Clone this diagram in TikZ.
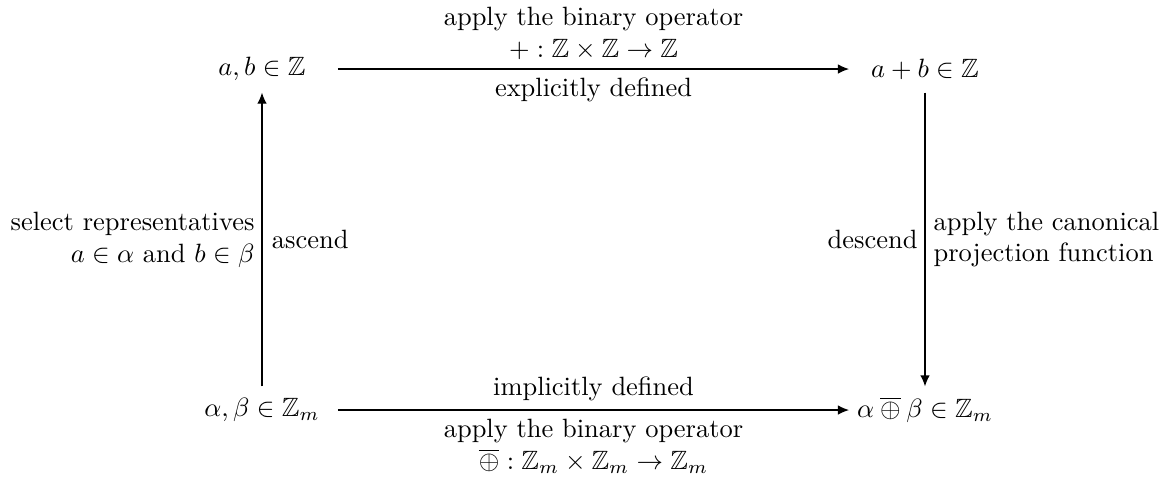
\documentclass[tikz,border=0pt]{standalone}
\usepackage{amsmath,amssymb}
\usetikzlibrary{arrows.meta}
\begin{document}
\begin{tikzpicture}[x=0.378pt,y=-0.378pt,
  obj/.style={minimum width=57pt,minimum height=17.4pt,inner sep=0pt},
  arr/.style={-{Latex[length=4.2pt,width=3.6pt]},line width=0.5pt},
  lbl/.style={align=center,inner sep=3.2pt}]
\useasboundingbox (0,0) rectangle (1167,477);
\node[obj] (tl) at (262,69) {$a,b\in\mathbb{Z}$};
\node[obj] (tr) at (925,69) {$a+b\in\mathbb{Z}$};
\node[obj] (bl) at (262,410) {$\alpha,\beta\in\mathbb{Z}_m$};
\node[obj] (br) at (925,410) {$\alpha\mathbin{\overline{\oplus}}\beta\in\mathbb{Z}_m$};
\draw[arr] (tl) -- node[lbl,above]{apply the binary operator\\$+:\mathbb{Z}\times\mathbb{Z}\to\mathbb{Z}$}
  node[lbl,below]{explicitly defined} (tr);
\draw[arr] (bl) -- node[lbl,above]{implicitly defined}
  node[lbl,below]{apply the binary operator\\$\overline{\oplus}:\mathbb{Z}_m\times\mathbb{Z}_m\to\mathbb{Z}_m$} (br);
\draw[arr] (bl) -- node[lbl,left,align=right,inner sep=2.6pt]{select representatives\\$a\in\alpha$ and $b\in\beta$}
  node[lbl,right,inner sep=3.5pt]{ascend} (tl);
\draw[arr] (tr) -- node[lbl,left,inner sep=2.6pt]{descend}
  node[lbl,right,align=left,inner sep=3pt]{apply the canonical\\projection function} (br);
\end{tikzpicture}
\end{document}
